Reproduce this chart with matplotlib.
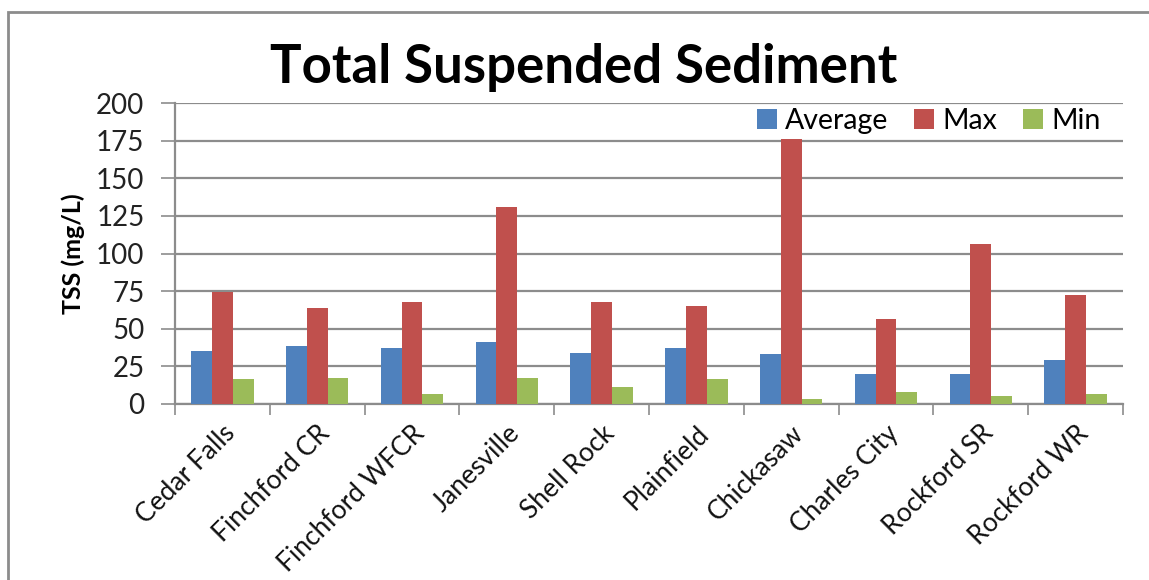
import numpy as np
import matplotlib
matplotlib.use("Agg")
import matplotlib.pyplot as plt
from matplotlib.patches import Rectangle

plt.rcParams['font.family'] = ['Lato', 'DejaVu Sans']

sites = ["Cedar Falls", "Finchford CR", "Finchford WFCR", "Janesville", "Shell Rock",
         "Plainfield", "Chickasaw", "Charles City", "Rockford SR", "Rockford WR"]
average = [35, 38.5, 37.5, 41, 34, 37.5, 33, 20, 20, 29.5]
maximum = [74.5, 64, 67.5, 131, 67.5, 65, 176, 56.5, 106.5, 72.5]
minimum = [16.5, 17.5, 6.5, 17.5, 11, 16.5, 3.5, 8, 5.5, 6.5]
yticks = [0, 25, 50, 75, 100, 125, 150, 175, 200]

colores = ["#4F81BD", "#C0504D", "#9BBB59"]
nombres = ["Average", "Max", "Min"]

fig = plt.figure(figsize=(11.49, 5.8), dpi=100)
# marco exterior del grafico
fig.patches.append(Rectangle((8/1149, -0.1), 1.2, (580-12)/580 + 0.1, transform=fig.transFigure,
                             fill=False, edgecolor="#8c8c8c", linewidth=2))
ax = fig.add_axes([175/1149, (580-404)/580, (1123-175)/1149, (404-103)/580])

x = np.arange(len(sites))
w = 0.22
for k, serie in enumerate([average, maximum, minimum]):
    ax.bar(x + (k-1)*w, serie, w, color=colores[k], label=nombres[k], zorder=3)

ax.set_xlim(-0.5, len(sites)-0.5)
ax.set_ylim(0, 200)
ax.set_yticks(yticks)
ax.set_yticklabels([str(v) for v in yticks], fontsize=20, color="#222222")
ax.grid(axis="y", color="#8c8c8c", linewidth=1.6, zorder=0)

ax.set_xticks(x)
ax.set_xticklabels(sites, rotation=45, ha="right", va="top", rotation_mode="anchor",
                   fontsize=19, color="#111111")
ax.tick_params(axis="x", which="major", length=0, pad=12)
ax.set_xticks(np.arange(-0.5, len(sites), 1), minor=True)
ax.tick_params(axis="x", which="minor", length=8, width=1.2, color="#8c8c8c")
ax.tick_params(axis="y", length=10, width=1.2, color="#8c8c8c", pad=12)

for s in ["top", "right"]:
    ax.spines[s].set_visible(False)
for s in ["left", "bottom"]:
    ax.spines[s].set_color("#8c8c8c")
    ax.spines[s].set_linewidth(1.6)

ax.set_ylabel("TSS (mg/L)", fontsize=18, fontweight="bold", labelpad=8)
fig.text(0.508, 0.883, "Total Suspended Sediment", fontsize=38, fontweight="bold",
         ha="center", va="center")

ax.legend(loc="upper right", bbox_to_anchor=(0.995, 1.04), ncol=3, frameon=False,
          fontsize=20.5, handlelength=0.7, handleheight=0.7, handletextpad=0.3,
          columnspacing=0.9, borderaxespad=0.2)

fig.savefig("out.png", dpi=100)
